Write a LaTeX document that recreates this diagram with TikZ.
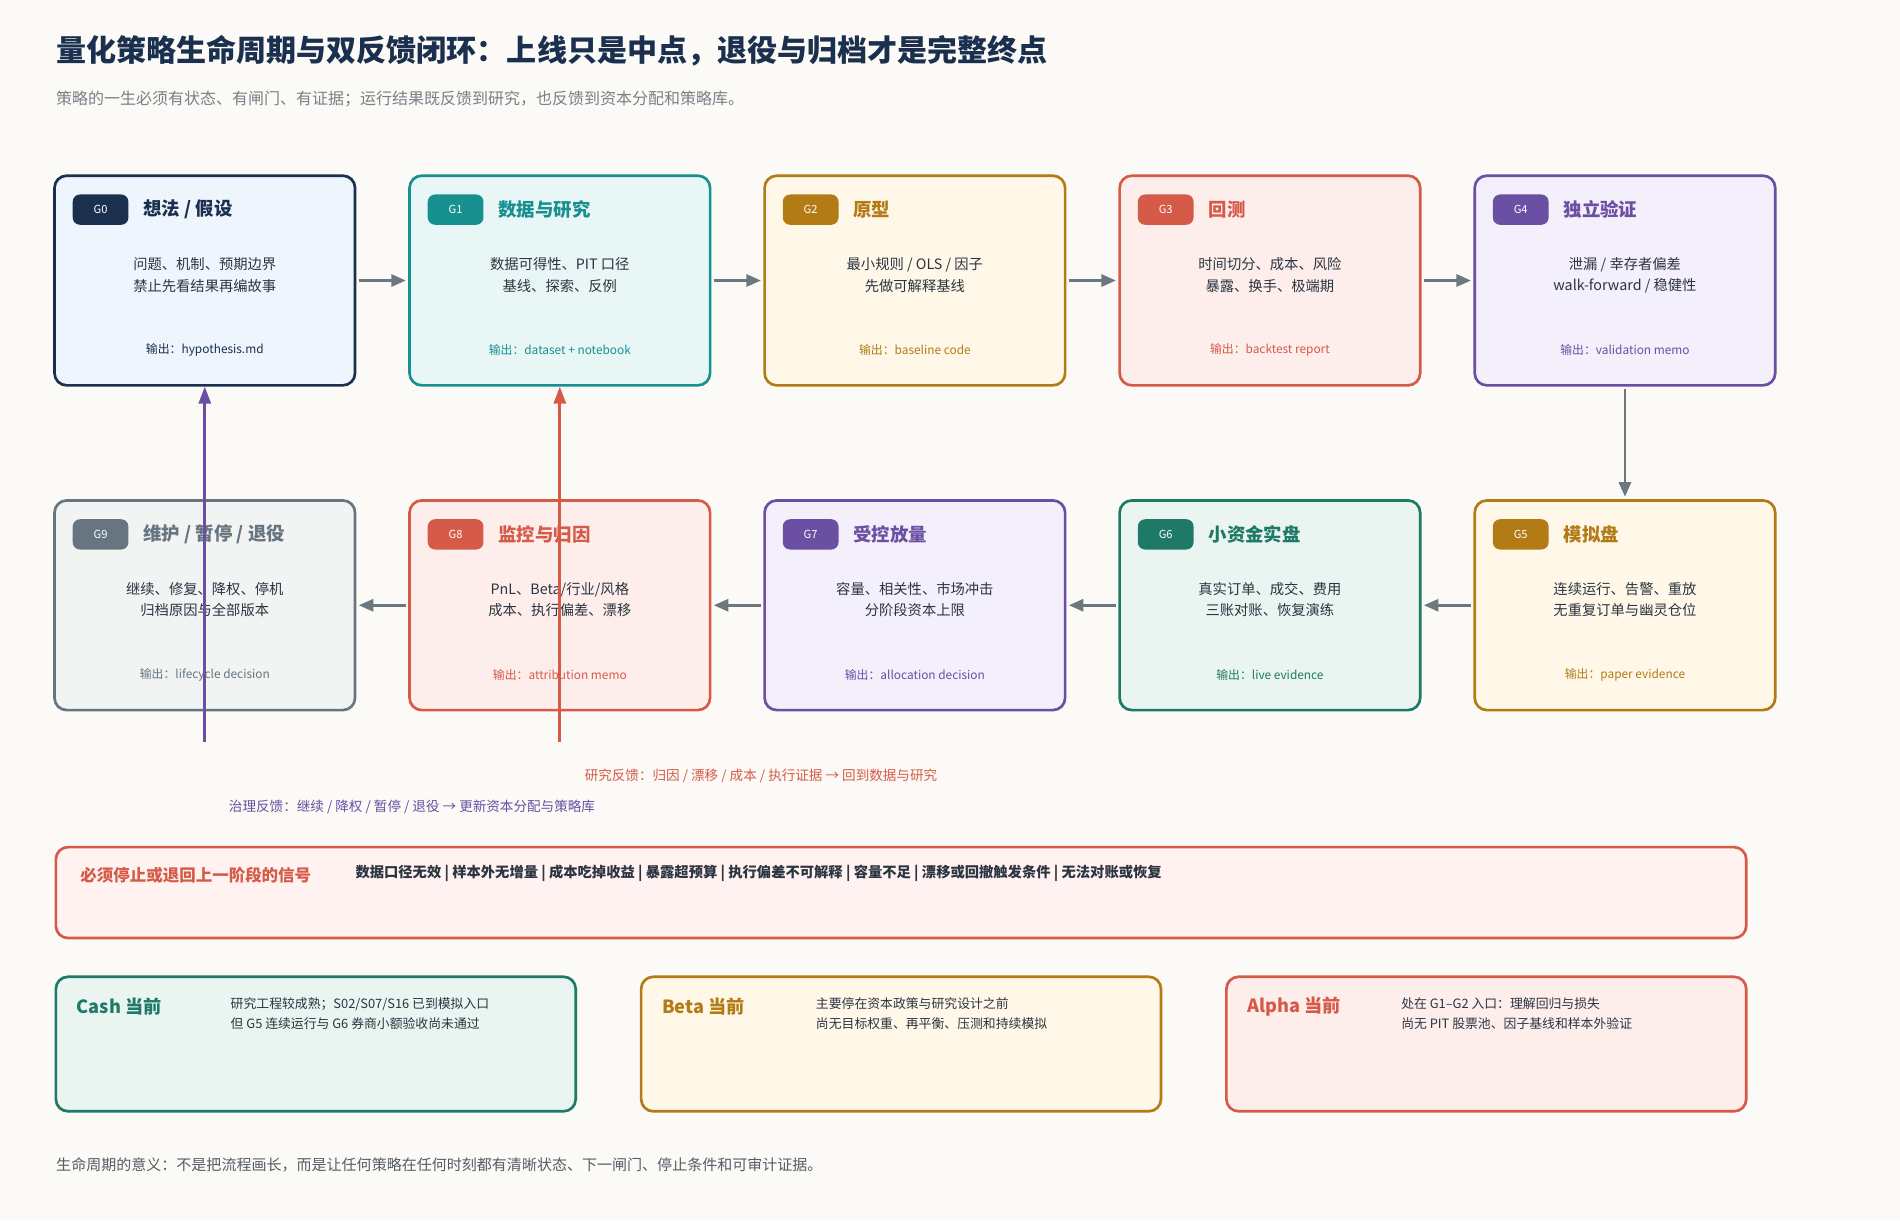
\documentclass[tikz,border=0pt]{standalone}
\usepackage{fontspec}
\setmainfont{Noto Sans CJK SC}
\usetikzlibrary{arrows.meta}
\definecolor{bg}{HTML}{FBFAF6}
\definecolor{navy}{HTML}{1B2F4E}\definecolor{navyf}{HTML}{EEF5FD}
\definecolor{teal}{HTML}{16918F}\definecolor{tealf}{HTML}{E8F7F6}
\definecolor{gold}{HTML}{B27B16}\definecolor{goldf}{HTML}{FFF8E8}
\definecolor{red}{HTML}{D65A48}\definecolor{redf}{HTML}{FDEEEC}
\definecolor{purp}{HTML}{6A4FA3}\definecolor{purpf}{HTML}{F3EFFB}
\definecolor{green}{HTML}{1E7A66}\definecolor{greenf}{HTML}{EAF5F1}
\definecolor{gray}{HTML}{66757F}\definecolor{grayf}{HTML}{F2F3F3}
\definecolor{ink}{HTML}{2B3440}\definecolor{sub}{HTML}{7A8087}
\definecolor{arr}{HTML}{6B7880}
\definecolor{sigf}{HTML}{FFF2F0}
\tikzset{
 every node/.append style={inner sep=0pt},
 box/.style={draw=#1, line width=1.1pt, rounded corners=5pt, minimum width=124pt, minimum height=86.5pt},
 badge/.style={fill=#1, rounded corners=3pt, minimum width=23pt, minimum height=12.5pt, text=white, font=\fontsize{4.6}{5}\selectfont},
 stitle/.style={font=\fontsize{7.6}{9}\selectfont\bfseries, anchor=west, text=#1},
 body/.style={font=\fontsize{5.9}{8.8}\selectfont, text=ink, align=center},
 outp/.style={font=\fontsize{4.9}{6}\selectfont, text=#1},
 flow/.style={draw=arr, line width=1.1pt, -{Triangle[length=6pt,width=5pt]}},
 fb/.style={draw=#1, line width=1.1pt, -{Triangle[length=7pt,width=5pt]}},
 fbl/.style={font=\fontsize{5.6}{6}\selectfont, text=#1},
 pane/.style={draw=#1, line width=1.1pt, rounded corners=5pt, anchor=north west},
}
\newcommand\stage[9]{% name, x, y, col, fill, badge, title, body, output
 \node[box=#4, fill=#5] (#1) at (#2+124,#3+86.5) {};
 \node[badge=#4] (#1b) at (#2+38,#3+28) {#6};
 \node[stitle=#4] (#1t) at (#2+73,#3+28) {#7};
 \node[body] (#1x) at (#2+124,#3+82) {#8};
 \node[outp=#4] (#1o) at (#2+124,#3+144) {输出：#9};
}
\begin{document}
\begin{tikzpicture}[x=0.5pt,y=-0.5pt]
\fill[bg] (0,0) rectangle (1568,1007);
\useasboundingbox (0,0) rectangle (1568,1007);
\node[anchor=west, text=navy, font=\fontsize{12.4}{13}\selectfont\bfseries] (title) at (46,42) {量化策略生命周期与双反馈闭环：上线只是中点，退役与归档才是完整终点};
\node[anchor=west, text=sub, font=\fontsize{6.6}{7}\selectfont] (subt) at (46,82) {策略的一生必须有状态、有闸门、有证据；运行结果既反馈到研究，也反馈到资本分配和策略库。};

\stage{g0}{45}{145}{navy}{navyf}{G0}{想法 / 假设}{问题、机制、预期边界\\禁止先看结果再编故事}{hypothesis.md}
\stage{g1}{338}{145}{teal}{tealf}{G1}{数据与研究}{数据可得性、PIT 口径\\基线、探索、反例}{dataset + notebook}
\stage{g2}{631}{145}{gold}{goldf}{G2}{原型}{最小规则 / OLS / 因子\\先做可解释基线}{baseline code}
\stage{g3}{924}{145}{red}{redf}{G3}{回测}{时间切分、成本、风险\\暴露、换手、极端期}{backtest report}
\stage{g4}{1217}{145}{purp}{purpf}{G4}{独立验证}{泄漏 / 幸存者偏差\\walk-forward / 稳健性}{validation memo}
\stage{g5}{1217}{413}{gold}{goldf}{G5}{模拟盘}{连续运行、告警、重放\\无重复订单与幽灵仓位}{paper evidence}
\stage{g6}{924}{413}{green}{greenf}{G6}{小资金实盘}{真实订单、成交、费用\\三账对账、恢复演练}{live evidence}
\stage{g7}{631}{413}{purp}{purpf}{G7}{受控放量}{容量、相关性、市场冲击\\分阶段资本上限}{allocation decision}
\stage{g8}{338}{413}{red}{redf}{G8}{监控与归因}{PnL、Beta/行业/风格\\成本、执行偏差、漂移}{attribution memo}
\stage{g9}{45}{413}{gray}{grayf}{G9}{维护 / 暂停 / 退役}{继续、修复、降权、停机\\归档原因与全部版本}{lifecycle decision}

\draw[flow] (g0.east) ++(2,0) -- ([xshift=-1pt]g1.west);
\draw[flow] (g1.east) ++(2,0) -- ([xshift=-1pt]g2.west);
\draw[flow] (g2.east) ++(2,0) -- ([xshift=-1pt]g3.west);
\draw[flow] (g3.east) ++(2,0) -- ([xshift=-1pt]g4.west);
\draw[flow] (g4.south) ++(0,2) -- ([yshift=1pt]g5.north);
\draw[flow] (g5.west) ++(-2,0) -- ([xshift=1pt]g6.east);
\draw[flow] (g6.west) ++(-2,0) -- ([xshift=1pt]g7.east);
\draw[flow] (g7.west) ++(-2,0) -- ([xshift=1pt]g8.east);
\draw[flow] (g8.west) ++(-2,0) -- ([xshift=1pt]g9.east);

\coordinate (fg) at (169,612);
\coordinate (fr) at (462,612);
\draw[fb=purp] (fg) -- (g0.south);
\draw[fb=red] (fr) -- (g1.south);
\node[fbl=red] (lr) at (628,640) {研究反馈：归因 / 漂移 / 成本 / 执行证据 → 回到数据与研究};
\node[fbl=purp] (lg) at (340,666) {治理反馈：继续 / 降权 / 暂停 / 退役 → 更新资本分配与策略库};

\node[pane=red, fill=sigf, minimum width=697.5pt, minimum height=37.5pt] (sig) at (45,698) {};
\node[anchor=west, text=red, font=\fontsize{6.8}{8}\selectfont\bfseries] (sigt) at (66,722) {必须停止或退回上一阶段的信号};
\node[anchor=west, text=ink, font=\fontsize{5.9}{7}\selectfont\bfseries] (sigx) at (293,721) {数据口径无效 | 样本外无增量 | 成本吃掉收益 | 暴露超预算 | 执行偏差不可解释 | 容量不足 | 漂移或回撤触发条件 | 无法对账或恢复};

\node[pane=green, fill=greenf, minimum width=214.5pt, minimum height=55.5pt] (cash) at (45,805) {};
\node[anchor=west, text=green, font=\fontsize{7.5}{9}\selectfont\bfseries] (casht) at (63,831) {Cash 当前};
\node[anchor=north west, text=ink, font=\fontsize{5.3}{8.4}\selectfont, align=left] (cashx) at (190,823) {研究工程较成熟；S02/S07/S16 已到模拟入口\\但 G5 连续运行与 G6 券商小额验收尚未通过};
\node[pane=gold, fill=goldf, minimum width=214.5pt, minimum height=55.5pt] (beta) at (528,805) {};
\node[anchor=west, text=gold, font=\fontsize{7.5}{9}\selectfont\bfseries] (betat) at (546,831) {Beta 当前};
\node[anchor=north west, text=ink, font=\fontsize{5.3}{8.4}\selectfont, align=left] (betax) at (673,823) {主要停在资本政策与研究设计之前\\尚无目标权重、再平衡、压测和持续模拟};
\node[pane=red, fill=redf, minimum width=214.5pt, minimum height=55.5pt] (alpha) at (1011,805) {};
\node[anchor=west, text=red, font=\fontsize{7.5}{9}\selectfont\bfseries] (alphat) at (1029,831) {Alpha 当前};
\node[anchor=north west, text=ink, font=\fontsize{5.3}{8.4}\selectfont, align=left] (alphax) at (1156,823) {处在 G1–G2 入口：理解回归与损失\\尚无 PIT 股票池、因子基线和样本外验证};

\node[anchor=west, text=ink!80, font=\fontsize{6.2}{7}\selectfont] (foot) at (46,961) {生命周期的意义：不是把流程画长，而是让任何策略在任何时刻都有清晰状态、下一闸门、停止条件和可审计证据。};
\end{tikzpicture}
\end{document}
